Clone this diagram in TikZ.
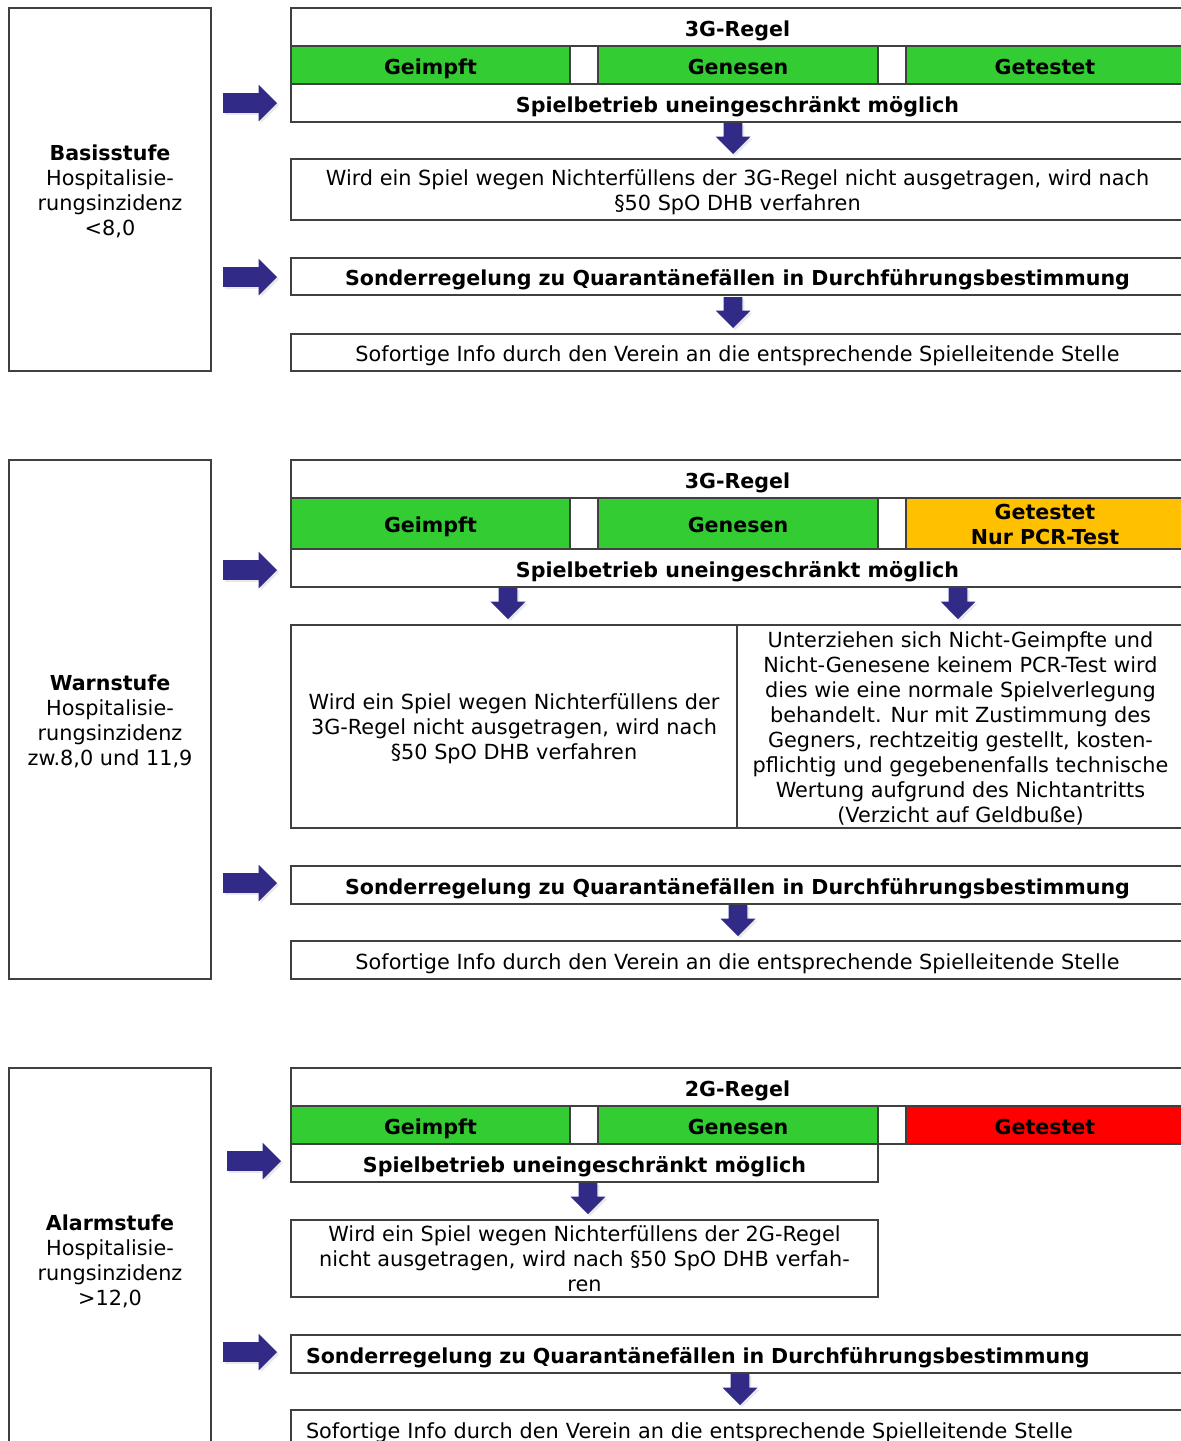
\documentclass[tikz,border=0pt]{standalone}
\usepackage{fontspec}
\setmainfont{DejaVu Sans}
\usetikzlibrary{shapes.arrows,shadows}

\definecolor{arrowblue}{RGB}{49,42,134}
\definecolor{okgreen}{RGB}{51,204,51}
\definecolor{pcrorange}{RGB}{255,192,0}
\definecolor{nored}{RGB}{255,0,0}
\newcommand\tafelfont{\fontsize{10.4}{12.5}\selectfont}
\newcommand\fettfont{\fontsize{10.3}{12.5}\selectfont\bfseries}
% feste Hoehe der ersten und Tiefe der letzten Zeile
\newcommand\anf{\rule{0pt}{10.5pt}}
\newcommand\schluss{\rule[-2.5pt]{0pt}{0pt}}

\tikzset{
  cell/.style={draw=black!75, line width=0.8pt, anchor=north west, inner sep=0pt,
    outer sep=0pt, align=center, font=\tafelfont},
  zeile/.style={cell, text height=9pt, text depth=0pt},
  fettzeile/.style={zeile, font=\fettfont},
  rightarrow/.style={single arrow, fill=arrowblue, draw=none, anchor=tail,
    inner sep=4.75pt, outer sep=0pt, minimum height=27pt, single arrow head extend=4.25pt,
    drop shadow={shadow xshift=1pt, shadow yshift=-1pt, opacity=0.18}},
  downarrow/.style={rightarrow, shape border rotate=270, inner sep=4.5pt,
    minimum height=15.5pt, single arrow head extend=4pt}
}

\begin{document}
\begin{tikzpicture}[x=0.5pt,y=-0.5pt]
  \useasboundingbox (0,0) rectangle (1181,1441);
  \clip (0,0) rectangle (1181,1441);
  \fill[white] (0,0) rectangle (1181,1441);

  % Basisstufe
  \node[cell, minimum width=101pt, minimum height=181.5pt] (stufeA) at (9,8)
    {\anf{\fettfont Basisstufe}\\Hospitalisie-\\rungsinzidenz\\<8,0\schluss};
  \node[fettzeile, minimum width=446.5pt, minimum height=19pt] (regelA) at (291,8) {3G-Regel};
  \node[fettzeile, fill=okgreen, minimum width=139.5pt, minimum height=19pt] (geimpftA) at (regelA.south west) {Geimpft};
  \node[zeile, minimum width=14pt, minimum height=19pt] (lueckeA1) at (geimpftA.north east) {};
  \node[fettzeile, fill=okgreen, minimum width=140pt, minimum height=19pt] (genesenA) at (lueckeA1.north east) {Genesen};
  \node[zeile, minimum width=14pt, minimum height=19pt] (lueckeA2) at (genesenA.north east) {};
  \node[fettzeile, fill=okgreen, minimum width=139pt, minimum height=19pt] (getestetA) at (lueckeA2.north east) {Getestet};
  \node[fettzeile, minimum width=446.5pt, minimum height=19pt] (spielA) at (geimpftA.south west) {Spielbetrieb uneingeschränkt möglich};
  \node[cell, minimum width=446.5pt, minimum height=30.5pt] (verfahrenA) at (291,159)
    {\anf Wird ein Spiel wegen Nichterfüllens der 3G-Regel nicht ausgetragen, wird nach\\§50 SpO DHB verfahren\schluss};
  \node[fettzeile, minimum width=446.5pt, minimum height=18.5pt] (sonderA) at (291,258)
    {Sonderregelung zu Quarantänefällen in Durchführungsbestimmung};
  \node[zeile, minimum width=446.5pt, minimum height=18.5pt] (infoA) at (291,334)
    {Sofortige Info durch den Verein an die entsprechende Spielleitende Stelle};
  \node[rightarrow] (pfeilA1) at (223,103) {};
  \node[rightarrow] (pfeilA2) at (223,277) {};
  \node[downarrow] (abA1) at (733,123) {};
  \node[downarrow] (abA2) at (733,297) {};

  % Warnstufe
  \node[cell, minimum width=101pt, minimum height=259.5pt] (stufeB) at (9,460)
    {\anf{\fettfont Warnstufe}\\Hospitalisie-\\rungsinzidenz\\zw.8,0 und 11,9\schluss};
  \node[fettzeile, minimum width=446.5pt, minimum height=19pt] (regelB) at (291,460) {3G-Regel};
  \node[fettzeile, fill=okgreen, minimum width=139.5pt, minimum height=25.5pt] (geimpftB) at (regelB.south west) {Geimpft};
  \node[zeile, minimum width=14pt, minimum height=25.5pt] (lueckeB1) at (geimpftB.north east) {};
  \node[fettzeile, fill=okgreen, minimum width=140pt, minimum height=25.5pt] (genesenB) at (lueckeB1.north east) {Genesen};
  \node[zeile, minimum width=14pt, minimum height=25.5pt] (lueckeB2) at (genesenB.north east) {};
  \node[cell, font=\fettfont, fill=pcrorange, minimum width=139pt, minimum height=25.5pt] (getestetB) at (lueckeB2.north east) {\anf Getestet\\Nur PCR-Test\schluss};
  \node[fettzeile, minimum width=446.5pt, minimum height=19pt] (spielB) at (geimpftB.south west) {Spielbetrieb uneingeschränkt möglich};
  \node[cell, minimum width=223pt, minimum height=101.5pt] (verfahrenB) at (291,625)
    {\anf Wird ein Spiel wegen Nichterfüllens der\\3G-Regel nicht ausgetragen, wird nach\\§50 SpO DHB verfahren\schluss};
  \node[cell, minimum width=223.5pt, minimum height=101.5pt] (pcrB) at (verfahrenB.north east)
    {\anf Unterziehen sich Nicht-Geimpfte und\\Nicht-Genesene keinem PCR-Test wird\\dies wie eine normale Spielverlegung\\behandelt. Nur mit Zustimmung des\\Gegners, rechtzeitig gestellt, kosten-\\pflichtig und gegebenenfalls technische\\Wertung aufgrund des Nichtantritts\\(Verzicht auf Geldbuße)\schluss};
  \node[fettzeile, minimum width=446.5pt, minimum height=19pt] (sonderB) at (291,866)
    {Sonderregelung zu Quarantänefällen in Durchführungsbestimmung};
  \node[zeile, minimum width=446.5pt, minimum height=19pt] (infoB) at (291,941)
    {Sofortige Info durch den Verein an die entsprechende Spielleitende Stelle};
  \node[rightarrow] (pfeilB1) at (223,570) {};
  \node[rightarrow] (pfeilB2) at (223,883) {};
  \node[downarrow] (abB1) at (508,588) {};
  \node[downarrow] (abB2) at (958,588) {};
  \node[downarrow] (abB3) at (738,905) {};

  % Alarmstufe
  \node[cell, minimum width=101pt, minimum height=191.5pt] (stufeC) at (9,1068)
    {\anf{\fettfont Alarmstufe}\\Hospitalisie-\\rungsinzidenz\\>12,0\schluss};
  \node[fettzeile, minimum width=446.5pt, minimum height=19pt] (regelC) at (291,1068) {2G-Regel};
  \node[fettzeile, fill=okgreen, minimum width=139.5pt, minimum height=19pt] (geimpftC) at (regelC.south west) {Geimpft};
  \node[zeile, minimum width=14pt, minimum height=19pt] (lueckeC1) at (geimpftC.north east) {};
  \node[fettzeile, fill=okgreen, minimum width=140pt, minimum height=19pt] (genesenC) at (lueckeC1.north east) {Genesen};
  \node[zeile, minimum width=14pt, minimum height=19pt] (lueckeC2) at (genesenC.north east) {};
  \node[fettzeile, fill=nored, minimum width=139pt, minimum height=19pt] (getestetC) at (lueckeC2.north east) {Getestet};
  \node[fettzeile, minimum width=293.5pt, minimum height=19pt] (spielC) at (geimpftC.south west) {Spielbetrieb uneingeschränkt möglich};
  \node[cell, minimum width=293.5pt, minimum height=38.5pt] (verfahrenC) at (291,1220)
    {\anf Wird ein Spiel wegen Nichterfüllens der 2G-Regel\\nicht ausgetragen, wird nach §50 SpO DHB verfah-\\ren\schluss};
  \node[fettzeile, align=left, text width=431.5pt, inner xsep=7.5pt, minimum height=19pt] (sonderC) at (291,1335)
    {Sonderregelung zu Quarantänefällen in Durchführungsbestimmung};
  \node[zeile, align=left, text width=431.5pt, inner xsep=7.5pt, minimum height=19pt] (infoC) at (291,1410)
    {Sofortige Info durch den Verein an die entsprechende Spielleitende Stelle};
  \node[rightarrow] (pfeilC1) at (227,1161) {};
  \node[rightarrow] (pfeilC2) at (223,1352) {};
  \node[downarrow] (abC1) at (588,1183) {};
  \node[downarrow] (abC2) at (740,1374) {};
\end{tikzpicture}
\end{document}
